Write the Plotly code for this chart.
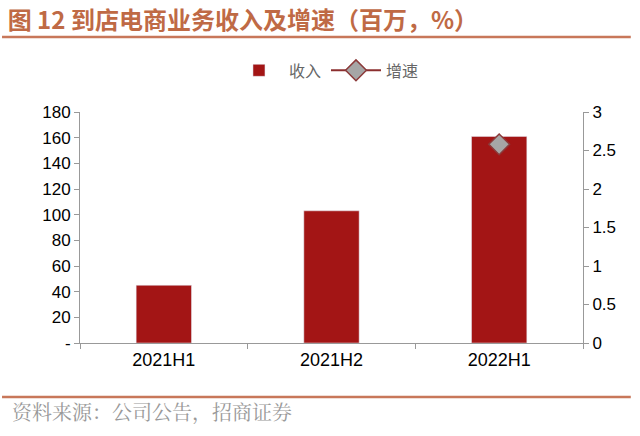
import plotly.graph_objects as go

categories = ["2021H1", "2021H2", "2022H1"]
revenue = [45, 103, 161]
growth = [None, None, 2.58]

left_ticks = [0, 20, 40, 60, 80, 100, 120, 140, 160, 180]
left_labels = ["-", "20", "40", "60", "80", "100", "120", "140", "160", "180"]
right_ticks = [0, 0.5, 1, 1.5, 2, 2.5, 3]
right_labels = ["0", "0.5", "1", "1.5", "2", "2.5", "3"]

fig = go.Figure()
fig.add_trace(go.Bar(x=categories, y=revenue, name="收入", marker_color="#A31515",
                     width=0.33, yaxis="y"))
fig.add_trace(go.Scatter(x=categories, y=growth, name="增速", yaxis="y2",
                         mode="lines+markers",
                         line=dict(color="#8B2E2E", width=2),
                         marker=dict(symbol="diamond", size=16, color="#A6A6A6",
                                     line=dict(color="#8B3A3A", width=1.5))))

ytickfont = dict(family="Liberation Sans, Arial", size=17, color="#000000")
xtickfont = dict(family="Liberation Sans, Arial", size=18, color="#000000")
fig.update_layout(
    width=640, height=436,
    margin=dict(l=80, r=57, t=112, b=93),
    plot_bgcolor="white", paper_bgcolor="white",
    showlegend=True,
    legend=dict(orientation="h", x=0.49, xanchor="center", y=1.18, yanchor="middle",
                bgcolor="rgba(0,0,0,0)",
                font=dict(family="Noto Sans CJK SC", size=16, color="#666666"),
                itemwidth=50),
    title=dict(text="<b>图 12 到店电商业务收入及增速（百万，%）</b>", xref="container",
               x=0.012, xanchor="left", y=0.953, yanchor="middle",
               font=dict(family="Noto Sans CJK SC", size=24, color="#BF6A45")),
    xaxis=dict(showline=True, linecolor="#999999", linewidth=1, ticks="outside",
               tickcolor="#999999", tickson="boundaries", ticklen=5,
               tickfont=xtickfont, showgrid=False),
    yaxis=dict(range=[0, 180], tickvals=left_ticks, ticktext=left_labels,
               showline=True, linecolor="#999999", linewidth=1, ticks="outside",
               tickcolor="#999999", ticklen=5, tickfont=ytickfont, showgrid=False,
               zeroline=False),
    yaxis2=dict(range=[0, 3], tickvals=right_ticks, ticktext=right_labels,
                overlaying="y", side="right", showline=True, linecolor="#999999",
                linewidth=1, ticks="outside", tickcolor="#999999", ticklen=5,
                tickfont=ytickfont, showgrid=False, zeroline=False),
    bargap=0.67,
)

fig.add_shape(type="line", xref="paper", yref="paper", x0=-0.155, x1=1.095,
              y0=1.325, y1=1.325, line=dict(color="#C8775A", width=2.5))
fig.add_shape(type="line", xref="paper", yref="paper", x0=-0.155, x1=1.095,
              y0=-0.234, y1=-0.234, line=dict(color="#C8775A", width=2.5))
fig.add_annotation(text="资料来源：公司公告，招商证券", xref="paper", yref="paper",
                   x=-0.14, y=-0.298, xanchor="left", yanchor="middle", showarrow=False,
                   font=dict(family="Noto Serif CJK SC, Noto Sans CJK SC", size=20,
                             color="#999999"))

fig.write_html("out.html")
